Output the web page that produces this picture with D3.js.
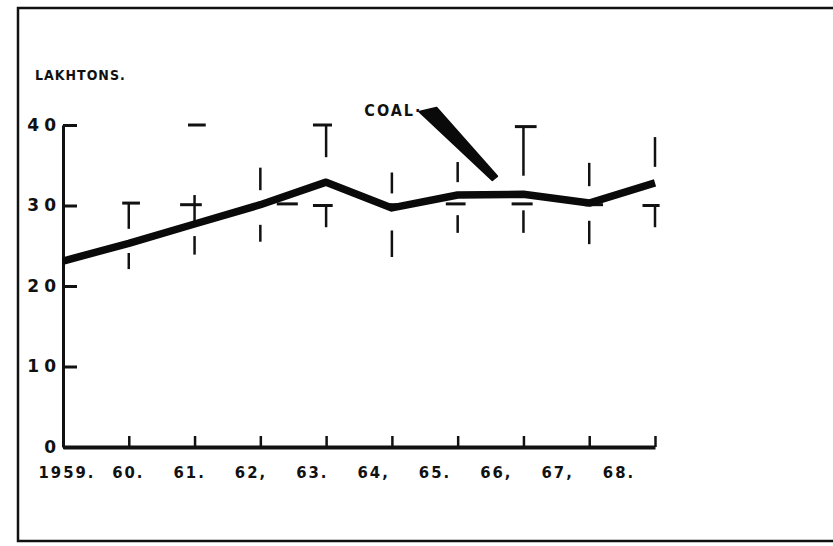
<!DOCTYPE html>
<html>
<head>
    <title>Coal - Lakh tons</title>
</head>
<body style="margin:0;background:#fff;">
<style type="text/css">
    #renderer {
        width: 833px;
        height: 546px;
        background: #fff;
        display: block;
    }
    text {
        font-family: "DejaVu Sans Condensed", "Liberation Sans Narrow", "DejaVu Sans", sans-serif;
        font-weight: bold;
        fill: #111;
    }
</style>
<script type="text/javascript" src="https://cdnjs.cloudflare.com/ajax/libs/d3/7.8.5/d3.min.js"></script>
<svg id='renderer'></svg>

<script type="text/javascript">
    // 1. data
    var years = [1959, 1960, 1961, 1962, 1963, 1964, 1965, 1966, 1967, 1968];
    var yearLabels = ['1959.', '60.', '61.', '62,', '63.', '64,', '65.', '66,', '67,', '68.'];
    var coal = [23.1, 25.3, 27.7, 30.1, 32.9, 29.7, 31.3, 31.4, 30.3, 32.8];
    var yTicks = [0, 10, 20, 30, 40];

    // hand drawn grid marks: vertical strokes [year, from, to]
    var gridStrokes = [
        [1960, 30.4, 27.1], [1960, 24.1, 22.1],
        [1961, 31.3, 27.8], [1961, 26.2, 23.9],
        [1962, 34.7, 31.9], [1962, 27.6, 25.5],
        [1963, 40.0, 36.0], [1963, 30.0, 27.3],
        [1964, 34.1, 31.5], [1964, 26.9, 23.6],
        [1965, 35.4, 32.9], [1965, 28.8, 26.6],
        [1966, 39.9, 33.7], [1966, 29.4, 26.6],
        [1967, 35.3, 32.4], [1967, 28.1, 25.2],
        [1968, 38.5, 34.8], [1968, 30.0, 27.3]
    ];
    // horizontal dashes [yearFrom, yearTo, level]
    var gridDashes = [
        [1959.90, 1960.17, 30.3],
        [1960.90, 1961.17, 40.0],
        [1960.78, 1961.11, 30.1],
        [1962.25, 1962.57, 30.2],
        [1962.80, 1963.09, 40.0],
        [1962.80, 1963.10, 30.0],
        [1963.86, 1964.08, 30.1],
        [1964.82, 1965.12, 30.2],
        [1965.87, 1966.20, 39.8],
        [1965.82, 1966.14, 30.2],
        [1966.93, 1967.21, 30.1],
        [1967.81, 1968.07, 30.0]
    ];

    // label pointer: from the label to the line
    var pointerFrom = [1964.45, 41.9];
    var pointerTo = [1965.57, 33.4];

    // 2. draw
    var W = 833, H = 546;
    var root = d3.select('#renderer').attr('width', W).attr('height', H);

    var x = d3.scaleLinear().domain([1959, 1968]).range([63, 655]);
    var y = d3.scaleLinear().domain([0, 40]).range([447, 125]);
    // the year lettering drifts left of the ticks
    var xl = d3.scaleLinear().domain([1959, 1968]).range([67, 619]);

    // frame
    root.append('path')
        .attr('d', 'M' + W + ',8 H18 V541 H' + W)
        .attr('fill', 'none')
        .attr('stroke', '#111')
        .attr('stroke-width', 2.5);

    // grid marks
    root.selectAll('.gstroke').data(gridStrokes).enter().append('line')
        .attr('x1', function (d) { return x(d[0]); })
        .attr('x2', function (d) { return x(d[0]); })
        .attr('y1', function (d) { return y(d[1]); })
        .attr('y2', function (d) { return y(d[2]); })
        .attr('stroke', '#111')
        .attr('stroke-width', 2.5);

    root.selectAll('.gdash').data(gridDashes).enter().append('line')
        .attr('x1', function (d) { return x(d[0]); })
        .attr('x2', function (d) { return x(d[1]); })
        .attr('y1', function (d) { return y(d[2]); })
        .attr('y2', function (d) { return y(d[2]); })
        .attr('stroke', '#111')
        .attr('stroke-width', 3);

    // y axis
    var yAxis = root.append('g')
        .attr('transform', 'translate(' + x(1959) + ',0)')
        .call(d3.axisLeft(y).tickValues(yTicks).tickSizeInner(-14).tickSizeOuter(0).tickPadding(2));
    yAxis.select('.domain').attr('stroke', '#111').attr('stroke-width', 3);
    yAxis.selectAll('.tick line').attr('stroke', '#111').attr('stroke-width', 3);
    yAxis.selectAll('.tick text')
        .style('font-family', '"DejaVu Sans", sans-serif')
        .style('font-weight', 'bold')
        .attr('font-size', 17)
        .attr('letter-spacing', 5)
        .attr('fill', '#111');

    // x axis
    var xAxis = root.append('g')
        .attr('transform', 'translate(0,' + y(0) + ')')
        .call(d3.axisBottom(x).tickValues(years.slice(1)).tickSizeInner(-11).tickSizeOuter(0).tickFormat(''));
    xAxis.select('.domain').attr('stroke', '#111').attr('stroke-width', 4);
    xAxis.selectAll('.tick line').attr('stroke', '#111').attr('stroke-width', 2.5);

    root.selectAll('.xlab').data(years).enter().append('text')
        .attr('x', function (d) { return xl(d); })
        .attr('y', y(0) + 31)
        .attr('text-anchor', 'middle')
        .attr('font-size', 16.5)
        .attr('letter-spacing', 2)
        .text(function (d, i) { return yearLabels[i]; });

    // coal line
    var line = d3.line()
        .x(function (d, i) { return x(years[i]); })
        .y(function (d) { return y(d); });

    root.append('path')
        .datum(coal)
        .attr('d', line)
        .attr('fill', 'none')
        .attr('stroke', '#0a0a0a')
        .attr('stroke-width', 7.5)
        .attr('stroke-linejoin', 'round')
        .attr('stroke-linecap', 'butt');

    // pointer wedge
    var p0 = [x(pointerFrom[0]), y(pointerFrom[1])];
    var p1 = [x(pointerTo[0]), y(pointerTo[1])];
    var wedge = [
        [p0[0] - 2, p0[1] + 2],
        [p0[0] + 15, p0[1] - 2],
        [p1[0] + 2, p1[1] - 2],
        [p1[0] - 3, p1[1] + 2]
    ];
    root.append('path')
        .attr('d', d3.line()(wedge) + 'Z')
        .attr('fill', '#0a0a0a')
        .attr('stroke', '#0a0a0a')
        .attr('stroke-width', 2)
        .attr('stroke-linejoin', 'round');

    root.append('text')
        .attr('x', p0[0] + 1)
        .attr('y', p0[1] + 6)
        .attr('text-anchor', 'end')
        .attr('font-size', 16)
        .attr('letter-spacing', 2)
        .text('COAL\u00b7');

    // unit label
    root.append('text')
        .attr('x', 35)
        .attr('y', 80)
        .attr('font-size', 14)
        .attr('letter-spacing', 1)
        .text('LAKHTONS.');
</script>
</body>
</html>
